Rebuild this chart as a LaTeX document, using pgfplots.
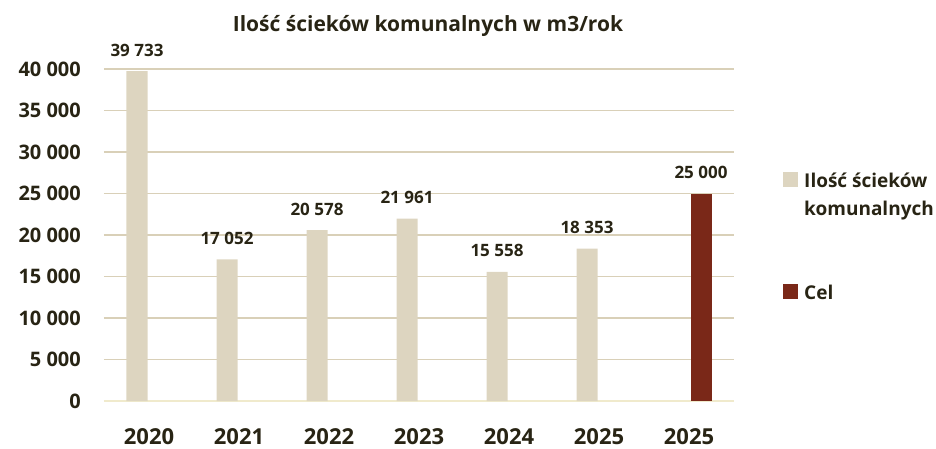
\documentclass[border=0pt]{standalone}
\usepackage{pgfplots}
\pgfplotsset{compat=1.18}
\usepackage{fontspec}
\setmainfont{Open Sans}

\definecolor{txt}{RGB}{40,36,20}
\definecolor{beige}{RGB}{221,213,192}
\definecolor{gridc}{RGB}{217,208,184}
\definecolor{base}{RGB}{240,234,204}
\definecolor{cel}{RGB}{122,40,24}

\newcommand{\fs}[1]{\fontsize{#1}{#1}\selectfont\bfseries}

\begin{document}
\begin{tikzpicture}[x=1pt,y=1pt]
  \begin{axis}[
    at={(0,0)}, anchor=south west,
    scale only axis,
    width=630pt, height=332pt,
    clip=false,
    ybar,
    bar width=21pt,
    xmin=-0.5, xmax=6.5,
    ymin=0, ymax=40000,
    scaled y ticks=false,
    xtick={0,1,2,3,4,5,6},
    xticklabels={2020,2021,2022,2023,2024,2025,2025},
    ytick={0,5000,10000,15000,20000,25000,30000,35000,40000},
    yticklabels={0,5 000,10 000,15 000,20 000,25 000,30 000,35 000,40 000},
    xticklabel style={font=\fs{22}, text=txt, anchor=center, inner sep=0pt, yshift=-35.5pt},
    yticklabel style={font=\fs{20}, text=txt, anchor=east, inner sep=0pt, xshift=-23pt},
    major tick length=0pt,
    axis x line*=bottom,
    axis y line*=left,
    y axis line style={draw=none},
    x axis line style={draw=base, line width=2pt},
    ymajorgrids=true,
    grid style={gridc, line width=1.8pt},
    /pgf/number format/assume math mode=true,
    nodes near coords={\pgfmathprintnumber[1000 sep={\ }]{\pgfplotspointmeta}},
    every node near coord/.append style={font=\fs{17}, text=txt, anchor=center, yshift=21pt},
  ]
    \addplot[fill=beige, draw=none, bar shift=-12pt]
      coordinates {(0,39733) (1,17052) (2,20578) (3,21961) (4,15558) (5,18353)};
    \addplot[fill=cel, draw=none, bar shift=12pt]
      coordinates {(6,25000)};
  \end{axis}

  % title
  \node[anchor=base, inner sep=0pt, text=txt, font=\fs{21}] at (324,369.5)
    {Ilość ścieków komunalnych w m3/rok};

  % legend
  \fill[beige] (679,214) rectangle (694,229);
  \node[anchor=base west, inner sep=0pt, text=txt, font=\fs{19}] at (700,214) {Ilość ścieków};
  \node[anchor=base west, inner sep=0pt, text=txt, font=\fs{19}] at (700,186) {komunalnych};
  \fill[cel] (679,102) rectangle (694,117);
  \node[anchor=base west, inner sep=0pt, text=txt, font=\fs{19}] at (700,102) {Cel};

  \pgfresetboundingbox
  \useasboundingbox (-104,-47) rectangle (832,401);
\end{tikzpicture}
\end{document}
